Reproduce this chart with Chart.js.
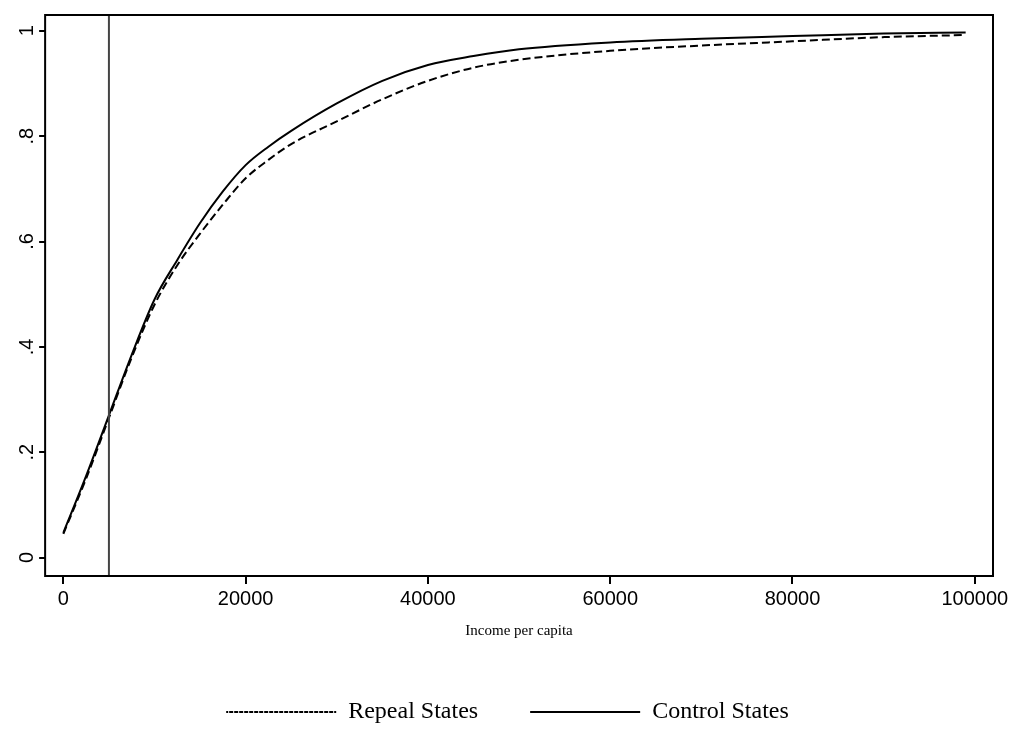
<!DOCTYPE html>
<html><head><meta charset="utf-8">
<script src="https://cdn.jsdelivr.net/npm/chart.js@4"></script>
<style>body{margin:0;background:#fff}#wrap{width:1029px;height:734px}</style>
</head><body><div id="wrap"><canvas id="c"></canvas></div>
<script>
const incomes = [0, 2500, 5000, 7500, 10000, 12500, 15000, 17500, 20000, 22500, 25000, 30000, 35000, 40000, 45000, 50000, 60000, 70000, 80000, 90000, 99000]
const controlStates = [0.047, 0.155, 0.27, 0.385, 0.49, 0.565, 0.635, 0.695, 0.745, 0.78, 0.81, 0.862, 0.905, 0.935, 0.952, 0.965, 0.978, 0.985, 0.99, 0.995, 0.997]
const repealStates = [0.045, 0.15, 0.265, 0.38, 0.48, 0.555, 0.615, 0.67, 0.72, 0.755, 0.785, 0.828, 0.87, 0.905, 0.93, 0.945, 0.962, 0.972, 0.98, 0.988, 0.992]
const xTicks = [0, 20000, 40000, 60000, 80000, 100000]
const yTicks = [0, 0.2, 0.4, 0.6, 0.8, 1]
const yLabels = ['0', '.2', '.4', '.6', '.8', '1']
const cutoff = 5000

const pts = (ys) => incomes.map((x, i) => ({x: x, y: ys[i]}))

const framePlugin = {
	id: 'frame',
	afterDraw(chart) {
		const a = chart.chartArea, ctx = chart.ctx
		const xs = chart.scales.x, ys = chart.scales.y
		ctx.save()
		ctx.strokeStyle = '#444'
		ctx.lineWidth = 2
		const px = xs.getPixelForValue(cutoff)
		ctx.beginPath(); ctx.moveTo(px, a.top); ctx.lineTo(px, a.bottom); ctx.stroke()
		ctx.strokeStyle = '#000'
		ctx.strokeRect(a.left, a.top, a.right - a.left, a.bottom - a.top)
		// y tick labels, reading bottom to top
		ctx.fillStyle = '#000'
		ctx.font = '20px "Liberation Sans"'
		ctx.textAlign = 'center'
		ctx.textBaseline = 'middle'
		yTicks.forEach((v, i) => {
			ctx.save()
			ctx.translate(a.left - 18, ys.getPixelForValue(v))
			ctx.rotate(-Math.PI / 2)
			ctx.fillText(yLabels[i], 0, 0)
			ctx.restore()
		})
		ctx.restore()
	}
}

new Chart(document.getElementById('c'), {
	type: 'line',
	data: {
		datasets: [
			{label: 'Repeal States', data: pts(repealStates), borderColor: '#000', borderWidth: 2, borderDash: [8, 4], pointRadius: 0, cubicInterpolationMode: 'monotone'},
			{label: 'Control States', data: pts(controlStates), borderColor: '#000', borderWidth: 2, pointRadius: 0, cubicInterpolationMode: 'monotone'}
		]
	},
	options: {
		responsive: true, maintainAspectRatio: false, animation: false,
		layout: {padding: {left: 22, right: 36, top: 1, bottom: 0}},
		plugins: {
			legend: {position: 'bottom', labels: {boxWidth: 110, boxHeight: 0, padding: 52, color: '#000', font: {family: 'Liberation Serif', size: 24},
				generateLabels: (chart) => chart.data.datasets.map((d, i) => ({
					text: d.label, strokeStyle: '#000', fillStyle: '#000', lineWidth: 2,
					lineDash: i === 0 ? [2, 3] : [], datasetIndex: i, fontColor: '#000'
				}))}},
			tooltip: {enabled: false}
		},
		scales: {
			x: {
				type: 'linear', min: -2000, max: 102000,
				afterBuildTicks: (s) => { s.ticks = xTicks.map(v => ({value: v})) },
				grid: {drawOnChartArea: false, tickLength: 8, color: '#000', lineWidth: 2},
				border: {display: false},
				ticks: {color: '#000', font: {family: 'Liberation Sans', size: 20}, maxRotation: 0, callback: (v) => String(v)},
				title: {display: true, text: 'Income per capita', color: '#000', font: {family: 'Liberation Serif', size: 15}, padding: {top: 8, bottom: 8}}
			},
			y: {
				min: -0.035, max: 1.03,
				afterBuildTicks: (s) => { s.ticks = yTicks.map(v => ({value: v})) },
				grid: {drawOnChartArea: false, tickLength: 6, color: '#000', lineWidth: 2},
				border: {display: false},
				ticks: {color: 'rgba(0,0,0,0)', font: {family: 'Liberation Sans', size: 20}, callback: () => '0'}
			}
		}
	},
	plugins: [framePlugin]
})
</script></body></html>
